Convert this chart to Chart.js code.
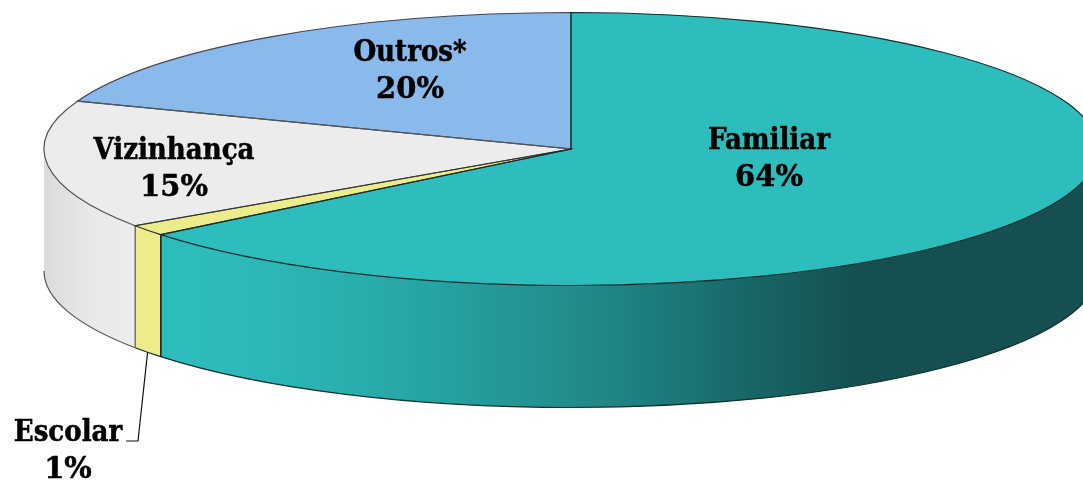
<!DOCTYPE html>
<html>
<head>
<meta charset="utf-8">
<style>
html,body{margin:0;padding:0;background:#fff;overflow:hidden}
#wrap{position:relative;width:1083px;height:483px}
</style>
<script src="https://cdn.jsdelivr.net/npm/chart.js@4/dist/chart.umd.min.js"></script>
</head>
<body>
<div id="wrap"><canvas id="c"></canvas></div>
<script>
const categories = ["Familiar", "Escolar", "Vizinhança", "Outros*"];
const values = [64.2, 1.3, 15.2, 19.3];
const percentLabels = ["64%", "1%", "15%", "20%"];
const topColors = ["#2DBDBD", "#EDEC8A", "#ECECEC", "#8ABAEC"];

// Oblique projection of the pie
const view = { cx: 571, cy: 149, rx: 527, ry: 136.5, depth: 122 };
const labelAnchors = [[769, 141], [68, 433], [174, 151], [410, 53]];
const lineGap = 37;
const nameFont = "bold 29px 'DejaVu Serif Condensed', 'DejaVu Serif', serif";
const percentFont = "bold 29px 'DejaVu Serif', serif";

function wallFill(ctx, i) {
  if (i === 0) {
    const g = ctx.createLinearGradient(160, 0, 1098, 0);
    [[0, "#2DBDBD"], [0.104, "#2CB8B8"], [0.28, "#27A5A5"], [0.482, "#208585"],
     [0.632, "#186666"], [0.746, "#154F4F"], [1, "#154F4F"]].forEach(s => g.addColorStop(s[0], s[1]));
    return g;
  }
  if (i === 2) {
    const g = ctx.createLinearGradient(44, 0, 134, 0);
    g.addColorStop(0, "#DBDBDB");
    g.addColorStop(0.5, "#E8E8E8");
    g.addColorStop(1, "#EDEDED");
    return g;
  }
  return topColors[i];
}

const strokeCols = ["#10302F", "#333", "#555", "#445"];

const pie3d = {
  id: "pie3d",
  beforeDatasetsDraw(chart) {
    const ctx = chart.ctx, arcs = chart.getDatasetMeta(0).data, v = view;
    arcs.forEach((arc, i) => {
      const a = Math.max(arc.startAngle, 0), b = Math.min(arc.endAngle, Math.PI);
      if (b <= a) return;
      ctx.save();
      ctx.beginPath();
      ctx.ellipse(v.cx, v.cy, v.rx, v.ry, 0, a, b);
      ctx.ellipse(v.cx, v.cy + v.depth, v.rx, v.ry, 0, b, a, true);
      ctx.closePath();
      ctx.fillStyle = wallFill(ctx, i);
      ctx.fill();
      ctx.strokeStyle = strokeCols[i === 2 ? 2 : 0];
      ctx.lineWidth = 1.2;
      ctx.beginPath();
      ctx.ellipse(v.cx, v.cy + v.depth, v.rx, v.ry, 0, a, b);
      ctx.stroke();
      [a, b].forEach((t) => {
        if (t <= 0.001 || t >= Math.PI - 0.001) return;
        const x = v.cx + v.rx * Math.cos(t), y = v.cy + v.ry * Math.sin(t);
        ctx.beginPath();
        ctx.moveTo(x, y);
        ctx.lineTo(x, y + v.depth);
        ctx.strokeStyle = i === 0 ? "#111" : i === 1 && t === arc.endAngle ? "#666" : i === 2 && t === arc.startAngle ? "#666" : "#111";
        ctx.stroke();
      });
      ctx.restore();
    });
    const o = arcs[0], R = o.outerRadius;
    ctx.save();
    ctx.translate(v.cx, v.cy);
    ctx.scale(v.rx / R, v.ry / R);
    ctx.translate(-o.x, -o.y);
  },
  afterDatasetsDraw(chart) {
    const ctx = chart.ctx, arcs = chart.getDatasetMeta(0).data, v = view;
    ctx.restore();
    [3, 2, 1, 0].forEach(i => {
      const arc = arcs[i];
      ctx.beginPath();
      ctx.moveTo(v.cx, v.cy);
      ctx.ellipse(v.cx, v.cy, v.rx, v.ry, 0, arc.startAngle, arc.endAngle);
      ctx.closePath();
      ctx.strokeStyle = strokeCols[i];
      ctx.lineWidth = 1.2;
      ctx.stroke();
    });
    const e = arcs[1], mid = (e.startAngle + e.endAngle) / 2;
    ctx.beginPath();
    ctx.moveTo(v.cx + v.rx * Math.cos(mid), v.cy + v.depth + v.ry * Math.sin(mid));
    ctx.lineTo(138, 441);
    ctx.lineTo(126, 441);
    ctx.strokeStyle = "#111";
    ctx.lineWidth = 1.2;
    ctx.stroke();
    ctx.fillStyle = "#000";
    ctx.strokeStyle = "#000";
    ctx.lineWidth = 0.5;
    ctx.lineJoin = "round";
    ctx.textAlign = "center";
    ctx.textBaseline = "middle";
    categories.forEach((name, i) => {
      const p = labelAnchors[i];
      ctx.font = nameFont;
      ctx.fillText(name, p[0], p[1]);
      ctx.strokeText(name, p[0], p[1]);
      ctx.font = percentFont;
      ctx.fillText(percentLabels[i], p[0], p[1] + lineGap);
      ctx.strokeText(percentLabels[i], p[0], p[1] + lineGap);
    });
  }
};

new Chart(document.getElementById("c"), {
  type: "pie",
  data: {
    labels: categories,
    datasets: [{ data: values, backgroundColor: topColors, borderWidth: 0, clip: false }]
  },
  options: {
    responsive: true,
    maintainAspectRatio: false,
    animation: false,
    layout: { padding: 0 },
    plugins: { legend: { display: false }, tooltip: { enabled: false } }
  },
  plugins: [pie3d]
});
</script>
</body>
</html>
